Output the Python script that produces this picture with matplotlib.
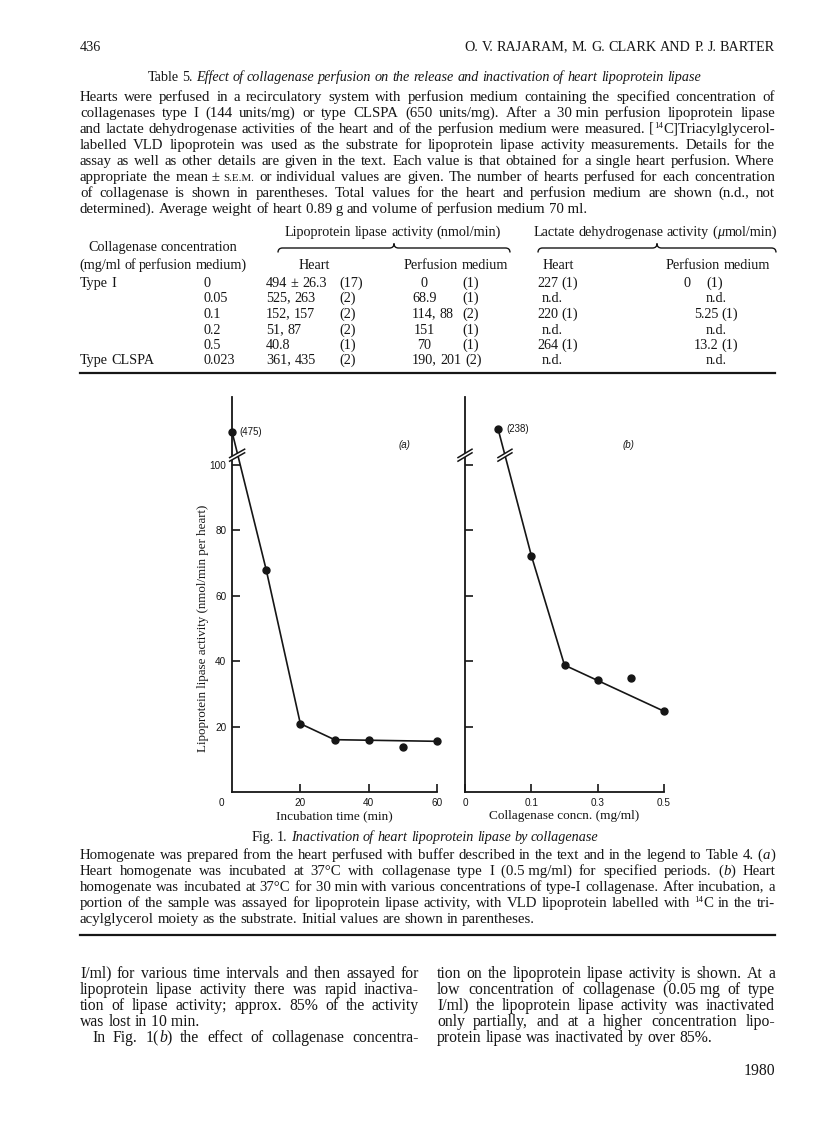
import math
import numpy as np
import matplotlib
matplotlib.use('Agg')
import matplotlib.pyplot as plt
from matplotlib.lines import Line2D
from matplotlib.path import Path
from matplotlib.patches import PathPatch, Polygon
from matplotlib.font_manager import FontProperties

# ---------------- data: Fig. 1 ----------------
time_min = [0, 10, 20, 30, 40, 50, 60]
activity_a = [110.2, 68.0, 20.9, 16.0, 15.8, 13.9, 15.5]   # first point drawn above the axis break
line_a_x = [0, 10, 20, 30, 60]
line_a_y = [110.2, 68.0, 20.9, 16.0, 15.5]
initial_a = 475

conc = [0.05, 0.1, 0.2, 0.3, 0.4, 0.5]
activity_b = [110.9, 72.3, 38.8, 34.4, 34.8, 24.7]         # first point drawn above the axis break
line_b_x = [0.05, 0.1, 0.2, 0.5]
line_b_y = [110.9, 72.3, 38.8, 24.7]
initial_b = 238

yticks = [20, 40, 60, 80, 100]
xticks_a = [20, 40, 60]
xticks_b = [0, 0.1, 0.3, 0.5]
xtick_labels_b = ['0', '0.1', '0.3', '0.5']

# ---------------- data: Table 5 ----------------
row_type = ['Type I', '', '', '', '', 'Type CLSPA']
row_conc = ['0', '0.05', '0.1', '0.2', '0.5', '0.023']
lpl_heart_val = ['494 ± 26.3', '525, 263', '152, 157', '51, 87', '40.8', '361, 435']
lpl_heart_n = ['(17)', '(2)', '(2)', '(2)', '(1)', '(2)']
lpl_perf_val = ['0', '68.9', '114, 88', '151', '70', '190, 201']
lpl_perf_n = ['(1)', '(1)', '(2)', '(1)', '(1)', '(2)']
ldh_heart = ['227 (1)', 'n.d.', '220 (1)', 'n.d.', '264 (1)', 'n.d.']
ldh_perf_val = ['0', 'n.d.', '5.25', 'n.d.', '13.2', 'n.d.']
ldh_perf_n = ['(1)', '', '(1)', '', '(1)', '']

# ---------------- page text ----------------
legend_lines = [
    "Hearts were perfused in a recirculatory system with perfusion medium containing the specified concentration of",
    "collagenases type I (144 units/mg) or type CLSPA (650 units/mg). After a 30\u00a0min perfusion lipoprotein lipase",
    "and lactate dehydrogenase activities of the heart and of the perfusion medium were measured. [^14^C]Triacylglycerol-",
    "labelled VLD lipoprotein was used as the substrate for lipoprotein lipase activity measurements. Details for the",
    "assay as well as other details are given in the text. Each value is that obtained for a single heart perfusion. Where",
    "appropriate the mean\u00a0±\u00a0~s.e.m.~ or individual values are given. The number of hearts perfused for each concentration",
    "of collagenase is shown in parentheses. Total values for the heart and perfusion medium are shown (n.d., not",
    "determined). Average weight of heart 0.89\u00a0g and volume of perfusion medium 70\u00a0ml.|",
]
caption_lines = [
    "Homogenate was prepared from the heart perfused with buffer described in the text and in the legend to Table 4. (*a*)",
    "Heart homogenate was incubated at 37°C with collagenase type I (0.5\u00a0mg/ml) for specified periods. (*b*) Heart",
    "homogenate was incubated at 37°C for 30\u00a0min with various concentrations of type-I collagenase. After incubation, a",
    "portion of the sample was assayed for lipoprotein lipase activity, with VLD lipoprotein labelled with ^14^C in the tri-",
    "acylglycerol moiety as the substrate. Initial values are shown in parentheses.|",
]
body_left = [
    "I/ml) for various time intervals and then assayed for",
    "lipoprotein lipase activity there was rapid inactiva-",
    "tion of lipase activity; approx. 85% of the activity",
    "was lost in 10\u00a0min.|",
    ">In Fig. 1(*b*) the effect of collagenase concentra-",
]
body_right = [
    "tion on the lipoprotein lipase activity is shown. At a",
    "low concentration of collagenase (0.05\u00a0mg of type",
    "I/ml) the lipoprotein lipase activity was inactivated",
    "only partially, and at a higher concentration lipo-",
    "protein lipase was inactivated by over 85%.|",
]

# ---------------- setup ----------------
W, H, DPI = 816, 1136, 100
SERIF = ['Liberation Serif', 'DejaVu Serif']
SANS = ['Liberation Sans', 'DejaVu Sans']
INK = '#161616'
plt.rcParams['font.family'] = SANS

fig = plt.figure(figsize=(W / DPI, H / DPI), dpi=DPI, facecolor='white')
renderer = fig.canvas.get_renderer()

try:
    from matplotlib.backends.backend_agg import get_hinting_flag
except Exception:
    get_hinting_flag = None


def fx(x):
    return x / W


def fy(y):
    return 1 - y / H


_wc = {}


def tw(s, size, style='normal'):
    key = (s, size, style)
    if key not in _wc:
        if not s:
            _wc[key] = 0.0
        else:
            t = fig.text(0, 0, s, fontsize=size, fontstyle=style, family=SERIF)
            _wc[key] = t.get_window_extent(renderer).width
            t.remove()
    return _wc[key]


def snap_baseline(s, size, style, b):
    """Return a baseline (pixels from top) that makes Agg land the glyph baseline on round(b)."""
    try:
        prop = FontProperties(family=SERIF, size=size, style=style)
        font = renderer._prepare_font(prop)
        font.set_text(s, 0, flags=get_hinting_flag())
        d = font.get_descent() / 64.0
        w26, h26 = font.get_width_height()
        a26 = h26 + font.get_descent() * 0  # placeholder to keep integers
        ymax26 = h26 - font.get_descent()
        yo = font.get_bitmap_offset()[1] / 64.0
        page = round(b + yo + d) - (h26 // 64) + math.floor(ymax26 / 64.0)
        return b + (round(b) - page)
    except Exception:
        return b


def space_w(size):
    return tw('a a', size) - tw('aa', size)


def parse(line):
    words, cur_word = [], []
    buf = ['']
    st = {'i': False, 'sup': False, 'sc': False}

    def flush():
        if buf[0]:
            cur_word.append((buf[0], (st['i'], st['sup'], st['sc'])))
            buf[0] = ''

    for ch in line:
        if ch in '*^~':
            flush()
            k = {'*': 'i', '^': 'sup', '~': 'sc'}[ch]
            st[k] = not st[k]
        elif ch == ' ':
            flush()
            if cur_word:
                words.append(list(cur_word))
                cur_word.clear()
        else:
            buf[0] += ch
    flush()
    if cur_word:
        words.append(list(cur_word))
    return words


def run_spec(text, st, size):
    it, sup, sc = st
    s = size
    dy = 0.0
    if sup:
        s = size * 0.6
        dy = round(size * DPI / 72 * 0.36)
    if sc:
        s = size * 0.74
        text = text.upper()
    return text, s, ('italic' if it else 'normal'), dy


def word_width(word, size):
    return sum(tw(*run_spec(t, st, size)[:3]) for t, st in word)


def draw_word(word, x, y, size):
    y = round(y)
    for t, st in word:
        txt, s, style, dy = run_spec(t, st, size)
        yb = snap_baseline(txt, s, style, y - dy)
        fig.text(fx(x), fy(yb), txt, fontsize=s, fontstyle=style, family=SERIF,
                 color=INK, ha='left', va='baseline')
        x += tw(txt, s, style)
    return x


def line_at(s, x, y, size, ha='left'):
    words = parse(s)
    sp = space_w(size)
    widths = [word_width(w, size) for w in words]
    total = sum(widths) + sp * (len(words) - 1)
    if ha == 'center':
        x -= total / 2
    elif ha == 'right':
        x -= total
    for w, wd in zip(words, widths):
        draw_word(w, x, y, size)
        x += wd + sp
    return total


def paragraph(lines, x0, x1, y0, lh, size, indent=12):
    sp = space_w(size)
    for k, raw in enumerate(lines):
        line, xs, just = raw, x0, True
        if line.startswith('>'):
            line, xs = line[1:], x0 + indent
        if line.endswith('|'):
            line, just = line[:-1], False
        words = parse(line)
        widths = [word_width(w, size) for w in words]
        gap = sp
        if just and len(words) > 1:
            gap = (x1 - xs - sum(widths)) / (len(words) - 1)
        x = xs
        for w, wd in zip(words, widths):
            draw_word(w, x, y0 + k * lh, size)
            x += wd + gap


def hrule(x0, x1, y, lw=1.4):
    fig.add_artist(Line2D([fx(x0), fx(x1)], [fy(y), fy(y)], lw=lw, color=INK))


def brace(x0, x1, y, h=4.5):
    xc = (x0 + x1) / 2
    pts = [(x0, y + h), (x0, y), (x0 + h, y), (xc - h, y), (xc, y), (xc, y - h),
           (xc, y), (xc + h, y), (x1 - h, y), (x1, y), (x1, y + h)]
    codes = [Path.MOVETO, Path.CURVE3, Path.CURVE3, Path.LINETO, Path.CURVE3, Path.CURVE3,
             Path.CURVE3, Path.CURVE3, Path.LINETO, Path.CURVE3, Path.CURVE3]
    verts = [(fx(a), fy(b)) for a, b in pts]
    fig.add_artist(PathPatch(Path(verts, codes), transform=fig.transFigure,
                             facecolor='none', edgecolor=INK, lw=1.0))


L, R = 80, 775
TITLE = 10.2
LEG = 10.7
TBL = 10.2
BODY = 11.3

# ---------------- header ----------------
line_at("436", L, 51, TITLE)
line_at("O. V. RAJARAM, M. G. CLARK AND P. J. BARTER", R, 51, TITLE, ha='right')

# ---------------- table ----------------
line_at("Table 5. *Effect of collagenase perfusion on the release and inactivation of heart lipoprotein lipase*",
        424, 81, TITLE, ha='center')
paragraph(legend_lines, L, R, 101, 16, LEG)

line_at("Lipoprotein lipase activity (nmol/min)", 393, 236, TBL, ha='center')
line_at("Lactate dehydrogenase activity (*μ*mol/min)", 655, 236, TBL, ha='center')
brace(278, 510, 248)
brace(538, 776, 248)
line_at("Collagenase concentration", 163, 251, TBL, ha='center')
line_at("(mg/ml of perfusion medium)", 163, 269, TBL, ha='center')
line_at("Heart", 314, 269, TBL, ha='center')
line_at("Perfusion medium", 456, 269, TBL, ha='center')
line_at("Heart", 558, 269, TBL, ha='center')
line_at("Perfusion medium", 718, 269, TBL, ha='center')

row_base = [287, 302.5, 318, 333.5, 349, 364.5]
sp = space_w(TBL)
for i, yb in enumerate(row_base):
    if row_type[i]:
        line_at(row_type[i], L, yb, TBL)
    line_at(row_conc[i], 203, yb, TBL)
    # lipoprotein lipase, heart
    w = line_at(lpl_heart_val[i], 266, yb, TBL)
    line_at(lpl_heart_n[i], max(339, 266 + w + sp), yb, TBL)
    # lipoprotein lipase, perfusion medium
    wv = word_width(parse(lpl_perf_val[i])[0], TBL) if ',' not in lpl_perf_val[i] else None
    xv = 412 if wv is None else max(412, 424 - wv / 2)
    w = line_at(lpl_perf_val[i], xv, yb, TBL)
    line_at(lpl_perf_n[i], max(462, xv + w + sp), yb, TBL)
    # LDH heart
    if ldh_heart[i] == 'n.d.':
        line_at('n.d.', 552, yb, TBL, ha='center')
    else:
        line_at(ldh_heart[i], 537, yb, TBL)
    # LDH perfusion medium
    if ldh_perf_val[i] == 'n.d.':
        line_at('n.d.', 716, yb, TBL, ha='center')
    elif ldh_perf_val[i] == '0':
        line_at('0', 684, yb, TBL)
        line_at(ldh_perf_n[i], 706, yb, TBL)
    else:
        line_at(ldh_perf_val[i] + ' ' + ldh_perf_n[i], 716, yb, TBL, ha='center')

hrule(L, R, 373, lw=1.6)

# ---------------- figure panels ----------------
AX_TOP, AX_BOT = 397, 792
Y_TOP = 100 * (AX_BOT - AX_TOP) / (AX_BOT - 465)


def ax_rect(l, r):
    return [l / W, 1 - AX_BOT / H, (r - l) / W, (AX_BOT - AX_TOP) / H]


ax_a = fig.add_axes(ax_rect(232, 437))
ax_b = fig.add_axes(ax_rect(465, 664))

BK = np.array(xticks_b, dtype=float)
POS = np.arange(len(BK), dtype=float)


def fwd(c):
    c = np.asarray(c, dtype=float)
    out = np.interp(c, BK, POS)
    out = np.where(c < BK[0], (c - BK[0]) / (BK[1] - BK[0]), out)
    out = np.where(c > BK[-1], POS[-1] + (c - BK[-1]) / (BK[-1] - BK[-2]), out)
    return out


def inv(p):
    p = np.asarray(p, dtype=float)
    out = np.interp(p, POS, BK)
    out = np.where(p < POS[0], BK[0] + p * (BK[1] - BK[0]), out)
    out = np.where(p > POS[-1], BK[-1] + (p - POS[-1]) * (BK[-1] - BK[-2]), out)
    return out


ax_b.set_xscale('function', functions=(fwd, inv))

for ax in (ax_a, ax_b):
    ax.set_facecolor('none')
    for s in ('top', 'right'):
        ax.spines[s].set_visible(False)
    for s in ('left', 'bottom'):
        ax.spines[s].set_linewidth(1.3)
        ax.spines[s].set_color(INK)
    ax.tick_params(direction='in', length=6, width=1.2, color=INK, labelsize=7.2,
                   labelcolor=INK, pad=4)
    ax.set_ylim(0, Y_TOP)
    ax.set_yticks(yticks)
    ax.minorticks_off()

ax_a.set_xlim(0, 60)
ax_a.set_xticks(xticks_a)
ax_a.set_xticklabels([str(v) for v in xticks_a])
ax_a.set_yticklabels([str(v) for v in yticks])
ax_a.annotate('0', xy=(0, 0), xytext=(-7.5, -4.3), textcoords='offset points',
              ha='center', va='top', fontsize=7.2, color=INK, annotation_clip=False)

ax_b.set_xlim(0, 0.5)
ax_b.set_xticks(xticks_b)
ax_b.set_xticklabels(xtick_labels_b)
ax_b.set_yticklabels([])
ax_b.minorticks_off()

ax_a.plot(line_a_x, line_a_y, color=INK, lw=1.2, clip_on=False, zorder=3)
ax_a.plot(time_min, activity_a, 'o', color=INK, ms=5, clip_on=False, zorder=4)
ax_b.plot(line_b_x, line_b_y, color=INK, lw=1.2, clip_on=False, zorder=3)
ax_b.plot(conc, activity_b, 'o', color=INK, ms=5, clip_on=False, zorder=4)

ax_a.annotate(f'({initial_a})', xy=(time_min[0], activity_a[0]), xytext=(5.5, 0),
              textcoords='offset points', ha='left', va='center', fontsize=7, color=INK,
              annotation_clip=False)
ax_b.annotate(f'({initial_b})', xy=(conc[0], activity_b[0]), xytext=(6, 0),
              textcoords='offset points', ha='left', va='center', fontsize=7, color=INK,
              annotation_clip=False)
ax_a.text(0.84, 0.878, '(a)', transform=ax_a.transAxes, fontsize=7, fontstyle='italic',
          color=INK, ha='center', va='center')
ax_b.text(0.82, 0.878, '(b)', transform=ax_b.transAxes, fontsize=7, fontstyle='italic',
          color=INK, ha='center', va='center')

BREAK_Y = 103


def break_mark(ax, xd, yd, hw=7.0, hh=4.2, sep=3.6):
    cx, cy = ax.transData.transform((xd, yd))
    T = fig.transFigure.inverted()
    poly = [(cx - hw, cy - hh - sep / 2), (cx + hw, cy + hh - sep / 2),
            (cx + hw, cy + hh + sep / 2), (cx - hw, cy - hh + sep / 2)]
    fig.add_artist(Polygon(T.transform(poly), closed=True, transform=fig.transFigure,
                           facecolor='white', edgecolor='none', zorder=5))
    for o in (-sep / 2, sep / 2):
        p = T.transform([(cx - hw, cy - hh + o), (cx + hw, cy + hh + o)])
        fig.add_artist(Line2D(p[:, 0], p[:, 1], lw=1.1, color=INK, zorder=6))


break_mark(ax_a, 1.5, BREAK_Y, hw=7.5)
break_mark(ax_b, 0, BREAK_Y)
xb_line = float(inv(np.interp(BREAK_Y, line_b_y[1::-1], fwd(line_b_x[1::-1]))))
break_mark(ax_b, xb_line, BREAK_Y)

fig.text(fx(203), fy(628), "Lipoprotein lipase activity (nmol/min per heart)", rotation=90,
         ha='center', va='center', fontsize=9.4, family=SERIF, color=INK)
fig.text(fx(334.5), fy(816), "Incubation time (min)", ha='center', va='center',
         fontsize=9.5, family=SERIF, color=INK)
fig.text(fx(564.5), fy(816), "Collagenase concn. (mg/ml)", ha='center', va='center',
         fontsize=9.5, family=SERIF, color=INK)

# ---------------- caption ----------------
line_at("Fig. 1. *Inactivation of heart lipoprotein lipase by collagenase*", 425, 841, TITLE, ha='center')
paragraph(caption_lines, L, R, 859, 16, LEG)
hrule(L, R, 935, lw=1.6)

# ---------------- body text ----------------
paragraph(body_left, L, 419, 978, 16, BODY)
paragraph(body_right, 437, R, 978, 16, BODY)
line_at("1980", R, 1075, BODY, ha='right')

fig.savefig('out.png', dpi=DPI, facecolor='white')
